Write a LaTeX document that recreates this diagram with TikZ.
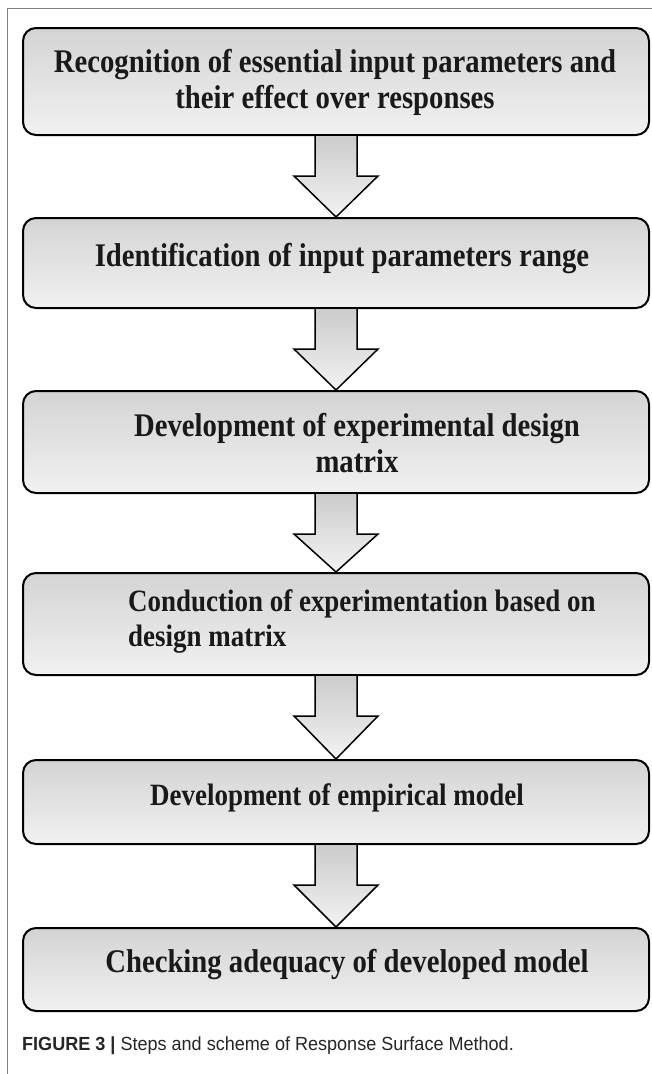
\documentclass[tikz,border=0pt]{standalone}
\usepackage{fontspec}
\usetikzlibrary{calc}
\newfontfamily\boxfont[FakeStretch=0.87]{Liberation Serif}
\newfontfamily\capfont[FakeStretch=0.95]{Liberation Sans}
\begin{document}
\begin{tikzpicture}[x=1pt,y=-1pt,
  stepbox/.style={draw=black, line width=2pt, rounded corners=13pt,
    top color=gray!34, bottom color=gray!11, minimum width=626pt,
    inner sep=0pt},
  steptext/.style={font=\boxfont\bfseries\fontsize{33}{36}\selectfont,
    align=center, inner sep=0pt, text=black!90},
  smalltext/.style={steptext, font=\boxfont\bfseries\fontsize{31}{35}\selectfont},
  flowarrow/.style={draw=black, line width=1.5pt, line join=miter,
    top color=gray!40, bottom color=gray!10}]
  \useasboundingbox (0,0) rectangle (652,1074);
  \fill[white] (0,0) rectangle (652,1074);
  % frame lines
  \draw[black!50, line width=1.5pt] (652,8.5) -- (7.5,8.5) -- (7.5,1074);

  % boxes
  \node[stepbox, minimum height=107pt] (b1) at (336,81.5) {};
  \node[stepbox, minimum height=90pt]  (b2) at (336,263) {};
  \node[stepbox, minimum height=102pt] (b3) at (336,442) {};
  \node[stepbox, minimum height=102pt] (b4) at (336,624) {};
  \node[stepbox, minimum height=84pt]  (b5) at (336,802) {};
  \node[stepbox, minimum height=83pt]  (b6) at (336,969.5) {};

  % texts
  \node[steptext] (t1) at (335,82) {Recognition of essential input parameters and\\their effect over responses};
  \node[steptext] (t2) at (342,259) {Identification of input parameters range};
  \node[steptext] (t3) at (357,443) {Development of experimental design\\matrix};
  \node[smalltext, align=left, anchor=west] (t4) at (128,621) {Conduction of experimentation based on\\design matrix};
  \node[smalltext] (t5) at (337,798) {Development of empirical model};
  \node[steptext] (t6) at (347,965) {Checking adequacy of developed model};

  % block arrows between steps
  \foreach \a/\b in {b1/b2,b2/b3,b3/b4,b4/b5,b5/b6}{
    \path let \p1=(\a.south), \p2=(\b.north) in
      [flowarrow] (\x1-21,\y1) -- (\x1-21,\y1-40) -- (\x1-42,\y1-40)
        -- (\x2,\y2) -- (\x1+42,\y1-40) -- (\x1+21,\y1-40)
        -- (\x1+21,\y1);
  }

  % caption
  \node[anchor=base west, inner sep=0pt, text=black!85,
        font=\capfont\fontsize{19}{22}\selectfont] (cap) at (22,1050)
    {\textbf{FIGURE 3 |} Steps and scheme of Response Surface Method.};
\end{tikzpicture}
\end{document}
